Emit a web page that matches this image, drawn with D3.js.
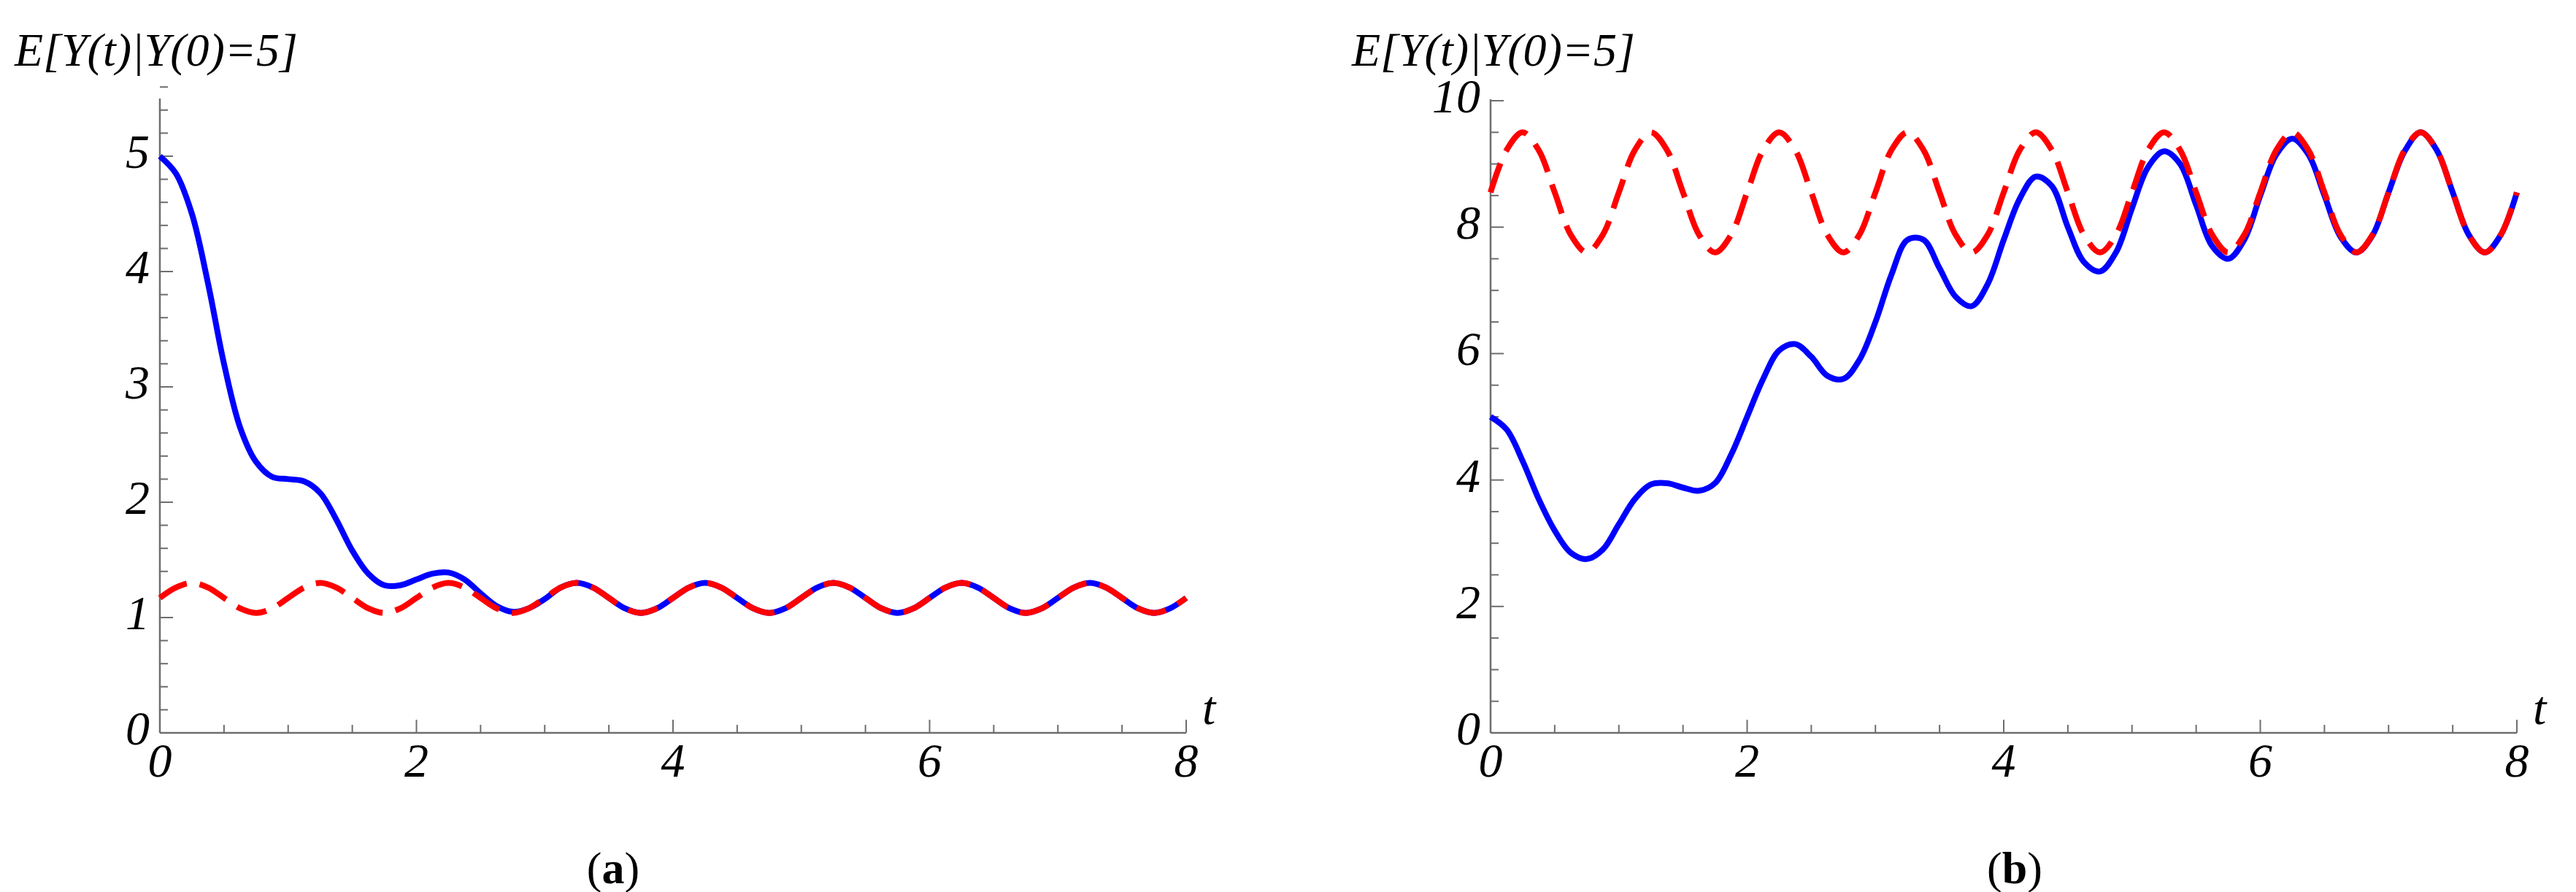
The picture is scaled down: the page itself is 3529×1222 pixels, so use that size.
<!DOCTYPE html>
<html><head><meta charset="utf-8">
<script src="https://cdn.jsdelivr.net/npm/d3@7"></script>
<style>body{margin:0;background:#fff}text{font-family:"Times New Roman","Liberation Serif",Times,serif}</style>
</head><body>
<svg id="c" width="3529" height="1222"></svg>
<script>
const tStep = 0.125;
const redA_cycle = [1.17,1.26,1.30,1.26,1.17,1.08,1.04,1.08];
const blueA_early = [5.0,4.85,4.5,3.9,3.2,2.65,2.35,2.22,2.2,2.18,2.08,1.85,1.58,1.38,1.28,1.28,1.33,1.38,1.39,1.33,1.21,1.1,1.05,1.08,1.16];
const redB_cycle = [8.55,9.22,9.5,9.22,8.55,7.88,7.6,7.88];
const blueB = [5.0,4.8,4.3,3.7,3.2,2.85,2.75,2.9,3.3,3.7,3.93,3.95,3.88,3.83,3.95,4.4,5.0,5.6,6.05,6.15,5.95,5.65,5.6,5.9,6.5,7.25,7.8,7.8,7.35,6.9,6.75,7.1,7.8,8.45,8.8,8.65,8.0,7.45,7.3,7.6,8.3,8.95,9.2,9.0,8.35,7.7,7.5,7.8,8.5,9.15,9.4,9.15,8.5,7.85,7.6,7.87,8.55,9.2,9.5,9.22,8.55,7.88,7.6,7.88,8.55];
const xTicks = [0,2,4,6,8];
const yTicksA = [0,1,2,3,4,5];
const yTicksB = [0,2,4,6,8,10];
const title = "E[Y(t)|Y(0)=5]";

const N = 65;
const ts = d3.range(N).map(i=>i*tStep);
const redA = ts.map((t,i)=>redA_cycle[i%8]);
const blueA = ts.map((t,i)=> i<blueA_early.length ? blueA_early[i] : redA[i]);
const redB = ts.map((t,i)=>redB_cycle[i%8]);

const svg = d3.select("#c");
function panel(o){
  const g = svg.append("g");
  const x = d3.scaleLinear().domain([0,8]).range([o.x0,o.x1]);
  const y = d3.scaleLinear().domain([0,o.ymax]).range([1004,o.ytop]);
  const gray="#6e6e6e";
  g.append("line").attr("x1",x(0)).attr("x2",x(8)).attr("y1",y(0)).attr("y2",y(0)).attr("stroke",gray).attr("stroke-width",2.5);
  g.append("line").attr("x1",x(0)).attr("x2",x(0)).attr("y1",y(0)).attr("y2",o.axTop).attr("stroke",gray).attr("stroke-width",2.5);
  d3.range(0,8.001,0.5).forEach(v=>{
    const major = Math.abs(v%2)<1e-6;
    g.append("line").attr("x1",x(v)).attr("x2",x(v)).attr("y1",y(0)).attr("y2",y(0)-(major?18:11)).attr("stroke",gray).attr("stroke-width",2);
  });
  d3.range(0,o.ymaxTick+1e-6,o.minor).forEach(v=>{
    const major = Math.abs(v/o.major - Math.round(v/o.major))<1e-6;
    g.append("line").attr("x1",x(0)).attr("x2",x(0)+(major?18:11)).attr("y1",y(v)).attr("y2",y(v)).attr("stroke",gray).attr("stroke-width",2);
  });
  xTicks.forEach(v=>g.append("text").attr("x",x(v)).attr("y",y(0)+60).attr("text-anchor","middle").attr("font-size",66).attr("font-style","italic").text(v));
  o.yTicks.forEach(v=>g.append("text").attr("x",x(0)-14).attr("y",y(v)+16).attr("text-anchor","end").attr("font-size",66).attr("font-style","italic").text(v));
  g.append("text").attr("x",x(8)+22).attr("y",y(0)-12).attr("font-size",66).attr("font-style","italic").text("t");
  g.append("text").attr("x",o.tx).attr("y",90).attr("font-size",64).attr("font-style","italic").text(title);
  const cap = g.append("text").attr("x",o.cx).attr("y",1210).attr("text-anchor","middle").attr("font-size",62);
  cap.append("tspan").text("(");
  cap.append("tspan").attr("font-weight","bold").text(o.letter);
  cap.append("tspan").text(")");
  const line = d3.line().x((d,i)=>x(ts[i])).y(d=>y(d)).curve(d3.curveCatmullRom);
  g.append("path").attr("d",line(o.blue)).attr("fill","none").attr("stroke","#0000ff").attr("stroke-width",8);
  g.append("path").attr("d",line(o.red)).attr("fill","none").attr("stroke","#ff0000").attr("stroke-width",8).attr("stroke-dasharray","42,18");
}
panel({x0:219,x1:1625,ymax:5,ytop:214,axTop:135,ymaxTick:5.6,minor:0.2,major:1,yTicks:yTicksA,blue:blueA,red:redA,tx:20,cx:840,letter:"a"});
panel({x0:2042,x1:3448,ymax:10,ytop:138,axTop:136,ymaxTick:10,minor:0.5,major:2,yTicks:yTicksB,blue:blueB,red:redB,tx:1852,cx:2760,letter:"b"});
</script>
</body></html>
